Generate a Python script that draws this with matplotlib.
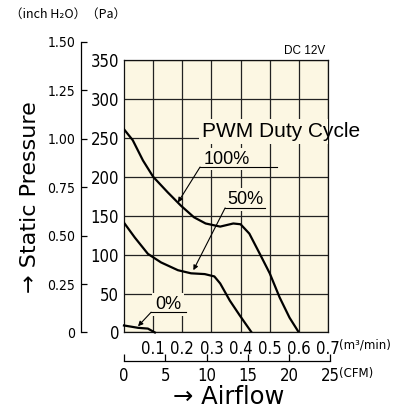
import numpy as np
import matplotlib
matplotlib.use("Agg")
import matplotlib.pyplot as plt

# fan P-Q curves, airflow in m3/min, static pressure in Pa
flow_100 = [0, 0.03, 0.065, 0.10, 0.15, 0.195, 0.24, 0.28, 0.33, 0.375, 0.40, 0.43, 0.466, 0.50, 0.534, 0.568, 0.60]
pres_100 = [261, 247, 221, 200, 180, 163, 148, 140, 136, 140, 139, 127, 101, 76, 45, 19, 0]

flow_50 = [0, 0.037, 0.082, 0.127, 0.185, 0.23, 0.277, 0.31, 0.33, 0.363, 0.397, 0.438]
pres_50 = [141, 122, 101, 90, 80, 76, 75, 72, 63, 41, 22, 0]

flow_0 = [0, 0.048, 0.082, 0.106]
pres_0 = [9, 6, 5, 0]

pa_ticks = [0, 50, 100, 150, 200, 250, 300, 350]
m3_ticks = [0.1, 0.2, 0.3, 0.4, 0.5, 0.6, 0.7]
cfm_ticks = [0, 5, 10, 15, 20, 25]
inch_ticks = [0, 0.25, 0.5, 0.75, 1.0, 1.25, 1.5]

PA_PER_INH2O = 249.089
M3MIN_PER_CFM = 0.0283168

cream = "#fcf7e3"
tick_font = dict(fontfamily="DejaVu Sans", fontstretch="condensed")
helv = ["Liberation Sans", "DejaVu Sans"]

fig = plt.figure(figsize=(4.11, 4.12), dpi=100)

L, B, W, H = 0.3017, 0.193, 0.4964, 0.6614
ax = fig.add_axes([L, B, W, H])
ax.set_facecolor(cream)
ax.set_xlim(0, 0.7)
ax.set_ylim(0, 350)
ax.set_xticks(m3_ticks)
ax.set_xticklabels([f"{v:.1f}" for v in m3_ticks], fontsize=12, **tick_font)
ax.set_yticks(pa_ticks)
ax.set_yticklabels([str(v) for v in pa_ticks], fontsize=12, **tick_font)
ax.tick_params(axis="x", length=0, pad=5.5)
ax.tick_params(axis="y", length=0, pad=3.5)
ax.grid(True, color="#222222", lw=0.9)
ax.set_axisbelow(True)
for s in ax.spines.values():
    s.set_color("#111111")
    s.set_linewidth(0.9)

ax.plot(flow_100, pres_100, color="black", lw=1.6, zorder=4)
ax.plot(flow_50, pres_50, color="black", lw=1.6, zorder=4)
ax.plot(flow_0, pres_0, color="black", lw=1.6, zorder=4, clip_on=False)

# labels with a cream patch that hides the grid behind them (clipped to the axes)
def label(x, y, s, size, ha="center"):
    ax.text(x, y, s, ha=ha, va="baseline", fontsize=size, fontfamily=helv,
            color=(0, 0, 0, 0), zorder=3, clip_on=True,
            bbox=dict(facecolor=cream, edgecolor="none", pad=2))
    ax.text(x, y, s, ha=ha, va="baseline", fontsize=size, fontfamily=helv,
            color="black", zorder=5, clip_on=False)

label(0.268, 251, "PWM Duty Cycle", 15, ha="left")
label(0.352, 217, "100%", 13)
label(0.415, 165, "50%", 13)
label(0.151, 30, "0%", 13)

# underlines and leader arrows
def leader(x0, x1, y, tip):
    ax.plot([x0, x1], [y, y], color="black", lw=0.8, zorder=5)
    ax.annotate("", xy=tip, xytext=(x0, y),
                arrowprops=dict(arrowstyle="-|>", color="black", lw=0.8,
                                mutation_scale=7, shrinkA=0, shrinkB=0),
                zorder=5)

leader(0.261, 0.525, 212.5, (0.185, 167))
leader(0.347, 0.484, 160, (0.238, 80))
leader(0.093, 0.213, 26, (0.048, 8))

ax.text(0.985, 1.012, "DC 12V", transform=ax.transAxes, ha="right", va="bottom",
        fontsize=8.5, fontfamily=helv)

# inch H2O scale on the far left
inch_h = H * (1.5 * PA_PER_INH2O / 350)
ax_in = fig.add_axes([0.197, B, 0.001, inch_h])
ax_in.set_ylim(0, 1.5)
ax_in.patch.set_visible(False)
for k in ["top", "right", "bottom"]:
    ax_in.spines[k].set_visible(False)
ax_in.spines["left"].set_linewidth(0.9)
ax_in.set_xticks([])
ax_in.set_yticks(inch_ticks)
ax_in.set_yticklabels(["0" if v == 0 else f"{v:.2f}" for v in inch_ticks],
                      fontsize=10, **tick_font)
ax_in.tick_params(axis="y", direction="in", length=4, width=0.9, pad=4)

# CFM scale under the m3/min scale
cfm_w = W * (25 * M3MIN_PER_CFM / 0.7)
ax_cfm = fig.add_axes([L, 0.1238, cfm_w, 0.001])
ax_cfm.set_xlim(0, 25)
ax_cfm.patch.set_visible(False)
for k in ["top", "right", "left"]:
    ax_cfm.spines[k].set_visible(False)
ax_cfm.spines["bottom"].set_linewidth(0.9)
ax_cfm.set_yticks([])
ax_cfm.set_xticks(cfm_ticks)
ax_cfm.set_xticklabels([str(v) for v in cfm_ticks], fontsize=12, **tick_font)
ax_cfm.tick_params(axis="x", direction="in", length=5, width=0.9, pad=4)

# unit and axis titles
fig.text(10 / 411, 1 - 14 / 412, "（inch H₂O）（Pa）", ha="left", va="center",
         fontsize=9, fontfamily=["Noto Sans CJK JP", "DejaVu Sans"])
fig.text(339 / 411, 1 - 345 / 412, "(m³/min)", ha="left", va="center",
         fontsize=8.5, fontfamily="DejaVu Sans")
fig.text(339 / 411, 1 - 374 / 412, "(CFM)", ha="left", va="center",
         fontsize=8.5, fontfamily="DejaVu Sans")
fig.text(30 / 411, 1 - 197 / 412, "→ Static Pressure", rotation=90,
         ha="center", va="center", fontsize=16, fontfamily="DejaVu Sans")
fig.text(229 / 411, 1 - 397 / 412, "→ Airflow", ha="center", va="center",
         fontsize=17.5, fontfamily="DejaVu Sans")

fig.savefig("out.png", dpi=100)
